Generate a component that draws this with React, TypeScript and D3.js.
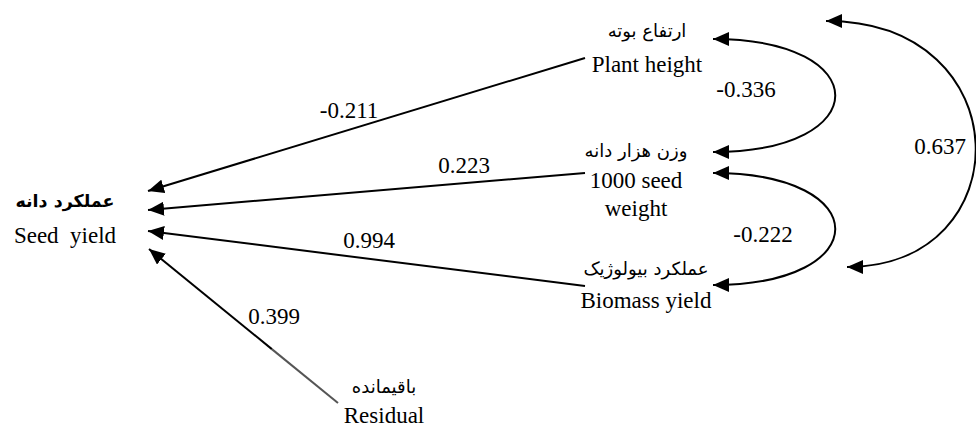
import { useEffect, useRef } from 'react';
import * as d3 from 'd3';

// Path coefficients (direct effects on seed yield)
const directLabels = ["Plant height", "1000 seed weight", "Biomass yield", "Residual"];
const directCoefs = ["-0.211", "0.223", "0.994", "0.399"];

// Correlations between predictors
const corrPairs = [["Plant height", "1000 seed weight"], ["1000 seed weight", "Biomass yield"], ["Plant height", "Biomass yield"]];
const corrCoefs = ["-0.336", "-0.222", "0.637"];

// Node labels (Persian / English lines)
const nodeIds = ["Seed yield", "Plant height", "1000 seed weight", "Biomass yield", "Residual"];
const nodeFa = ["عملکرد دانه", "ارتفاع بوته", "وزن هزار دانه", "عملکرد بیولوژیک", "باقیمانده"];
const nodeEn = [["Seed  yield"], ["Plant height"], ["1000 seed", "weight"], ["Biomass yield"], ["Residual"]];

// layout (pixels)
const nodePos: Record<string, { x: number; fa: number; en: number[] }> = {
  "Seed yield": { x: 65, fa: 207, en: [243] },
  "Plant height": { x: 647, fa: 37, en: [72] },
  "1000 seed weight": { x: 636, fa: 157, en: [188, 216] },
  "Biomass yield": { x: 646, fa: 275, en: [308] },
  "Residual": { x: 384, fa: 393, en: [423] },
};
const directStart: Record<string, [number, number]> = {
  "Plant height": [585, 58],
  "1000 seed weight": [585, 173],
  "Biomass yield": [585, 286],
  "Residual": [338, 403],
};
const directEnd: Record<string, [number, number]> = {
  "Plant height": [148, 191],
  "1000 seed weight": [148, 210],
  "Biomass yield": [148, 231],
  "Residual": [149, 249],
};
const directLabelPos: [number, number][] = [[349, 118], [464, 173], [369, 248], [274, 324]];
const corrGeom = [
  { a: [713, 39], b: [713, 152], c: 876, label: [746, 97] },
  { a: [713, 173], b: [713, 285], c: 876, label: [763, 242] },
  { a: [826, 21], b: [847, 267], c: 1022, label: [940, 154] },
];

function App() {
  const svgRef = useRef<SVGSVGElement>(null);

  useEffect(() => {
    const width = 976;
    const height = 428;
    const svg = d3.select(svgRef.current);
    svg.selectAll("*").remove();
    svg.attr("width", width).attr("height", height);

    svg.append("rect").attr("width", width).attr("height", height).attr("fill", "#fff");

    const defs = svg.append("defs");
    defs.append("marker")
      .attr("id", "arrow")
      .attr("viewBox", "0 0 16 14")
      .attr("refX", 16)
      .attr("refY", 7)
      .attr("markerWidth", 16)
      .attr("markerHeight", 14)
      .attr("markerUnits", "userSpaceOnUse")
      .attr("orient", "auto-start-reverse")
      .append("path")
      .attr("d", "M0,0 L16,7 L0,14 Z")
      .attr("fill", "#000");

    const serif = "'Liberation Serif', 'Times New Roman', serif";
    const persian = "'DejaVu Sans', sans-serif";

    // Direct effect arrows
    directLabels.forEach((id, i) => {
      const s = directStart[id];
      const e = directEnd[id];
      if (id === "Residual") {
        // lower part of the residual line is lighter
        const mid = d3.interpolateArray(s, e)(0.35) as [number, number];
        svg.append("line")
          .attr("x1", s[0]).attr("y1", s[1]).attr("x2", mid[0]).attr("y2", mid[1])
          .attr("stroke", "#555").attr("stroke-width", 2);
        svg.append("line")
          .attr("x1", mid[0]).attr("y1", mid[1]).attr("x2", e[0]).attr("y2", e[1])
          .attr("stroke", "#000").attr("stroke-width", 2)
          .attr("marker-end", "url(#arrow)");
      } else {
        svg.append("line")
          .attr("x1", s[0]).attr("y1", s[1]).attr("x2", e[0]).attr("y2", e[1])
          .attr("stroke", "#000").attr("stroke-width", 2)
          .attr("marker-end", "url(#arrow)");
      }
      svg.append("text")
        .attr("x", directLabelPos[i][0])
        .attr("y", directLabelPos[i][1])
        .attr("text-anchor", "middle")
        .style("font-family", serif)
        .style("font-size", "23px")
        .text(directCoefs[i]);
    });

    // Correlation curves (double-headed)
    corrPairs.forEach((_, i) => {
      const g = corrGeom[i];
      const p = d3.path();
      p.moveTo(g.a[0], g.a[1]);
      p.bezierCurveTo(g.c, g.a[1], g.c, g.b[1], g.b[0], g.b[1]);
      svg.append("path")
        .attr("d", p.toString())
        .attr("fill", "none")
        .attr("stroke", "#000")
        .attr("stroke-width", 2)
        .attr("marker-start", "url(#arrow)")
        .attr("marker-end", "url(#arrow)");
      svg.append("text")
        .attr("x", g.label[0])
        .attr("y", g.label[1])
        .attr("text-anchor", "middle")
        .style("font-family", serif)
        .style("font-size", "23px")
        .text(corrCoefs[i]);
    });

    // Node labels
    nodeIds.forEach((id, i) => {
      const pos = nodePos[id];
      svg.append("text")
        .attr("x", pos.x)
        .attr("y", pos.fa)
        .attr("text-anchor", "middle")
        .attr("direction", "rtl")
        .style("font-family", persian)
        .style("font-size", id === "Seed yield" ? "17.5px" : "18px")
        .style("font-weight", id === "Seed yield" ? "bold" : "normal")
        .text(nodeFa[i]);
      nodeEn[i].forEach((line, j) => {
        svg.append("text")
          .attr("x", pos.x)
          .attr("y", pos.en[j])
          .attr("text-anchor", "middle")
          .style("font-family", serif)
          .style("font-size", "23px")
          .style("white-space", "pre")
          .text(line);
      });
    });
  }, []);

  return <svg ref={svgRef} style={{ position: 'absolute', left: 0, top: 0, display: 'block' }}></svg>;
}

export default App;
